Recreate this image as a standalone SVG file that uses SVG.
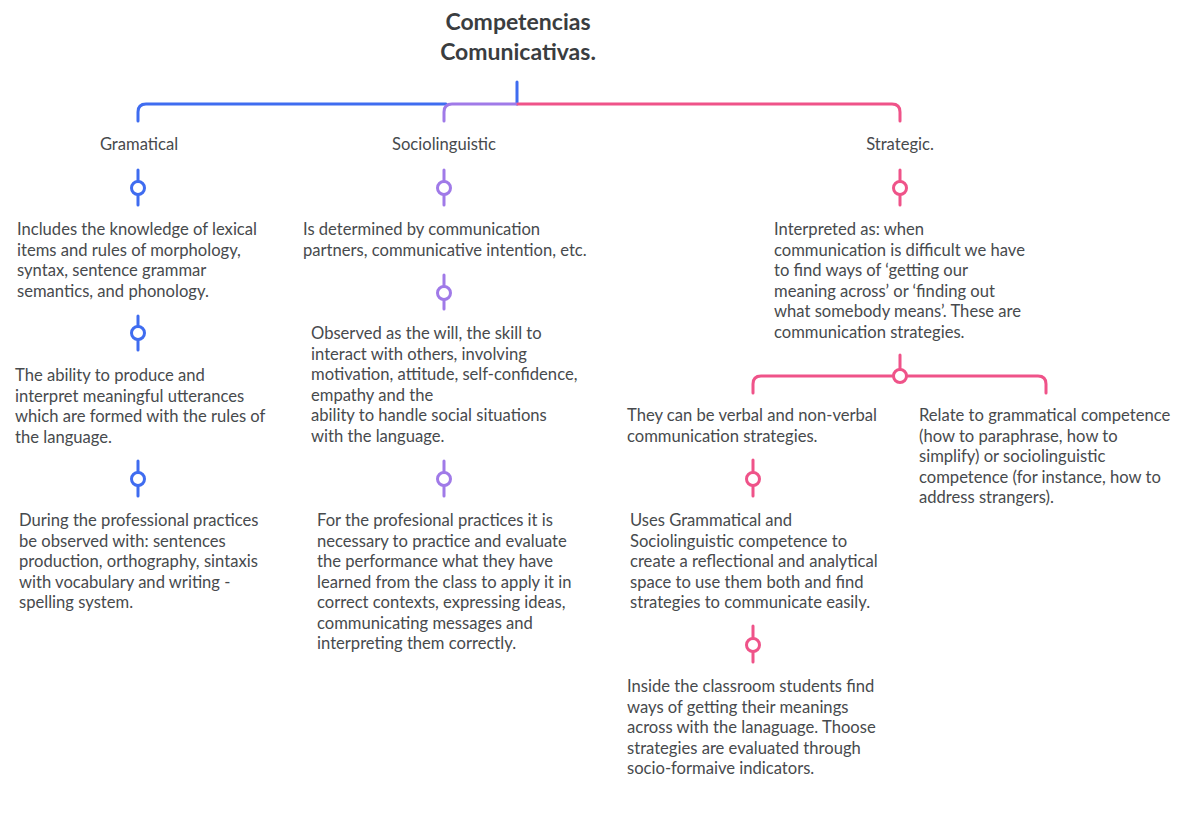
<svg xmlns="http://www.w3.org/2000/svg" width="1182" height="829" viewBox="0 0 1182 829">
<style>
.t{font-family:Lato,"Noto Sans",sans-serif;font-size:16.6px;fill:#474a4d}
.h{font-family:Lato,"Noto Sans",sans-serif;font-size:16.6px;fill:#474a4d;text-anchor:middle}
.title{font-family:Lato,"Noto Sans",sans-serif;font-size:23px;font-weight:bold;fill:#3a3d40;text-anchor:middle}
.ln{fill:none;stroke-width:3;stroke-linecap:round}
.b{stroke:#3f6cf0}
.p{stroke:#a07ae8}
.k{stroke:#ef5389}
.c{fill:#fff;stroke-width:3}
</style>
<rect width="1182" height="829" fill="#fff"/>
<g id="connectors">
<path class="ln b" d="M517 82V104"/>
<path class="ln b" d="M138 121V112Q138 104 146 104H446"/>
<path class="ln p" d="M444 121V112Q444 104 452 104H517"/>
<path class="ln k" d="M518 104H892Q900 104 900 112V121"/>
<path class="ln b" d="M138 170V181M138 195V205"/><circle class="c b" cx="138" cy="188" r="6.5"/>
<path class="ln b" d="M138 316V326M138 340V350"/><circle class="c b" cx="138" cy="333" r="6.5"/>
<path class="ln b" d="M138 461V472M138 486V496"/><circle class="c b" cx="138" cy="479" r="6.5"/>
<path class="ln p" d="M444 170V181M444 195V205"/><circle class="c p" cx="444" cy="188" r="6.5"/>
<path class="ln p" d="M444 275V286M444 300V309"/><circle class="c p" cx="444" cy="293" r="6.5"/>
<path class="ln p" d="M444 461V472M444 486V496"/><circle class="c p" cx="444" cy="479" r="6.5"/>
<path class="ln k" d="M900 170V181M900 195V205"/><circle class="c k" cx="900" cy="188" r="6.5"/>
<path class="ln k" d="M900 355V369"/>
<path class="ln k" d="M753 393V384Q753 376 761 376H893M907 376H1038Q1046 376 1046 384V393"/>
<circle class="c k" cx="900" cy="376" r="6.5"/>
<path class="ln k" d="M753 460V472M753 486V496"/><circle class="c k" cx="753" cy="479" r="6.5"/>
<path class="ln k" d="M753 626V638M753 652V662"/><circle class="c k" cx="753" cy="645" r="6.5"/>
</g>
<g id="root"><text class="title" x="518" y="30">Competencias</text><text class="title" x="518" y="60">Comunicativas.</text></g>
<g id="gramatical"><text class="h" x="139" y="150">Gramatical</text></g>
<g id="sociolinguistic"><text class="h" x="444" y="150">Sociolinguistic</text></g>
<g id="strategic"><text class="h" x="900" y="150">Strategic.</text></g>
<g id="g1"><text class="t" x="17" y="235">Includes the knowledge of lexical<tspan x="17" dy="20.5">items and rules of morphology,</tspan><tspan x="17" dy="20.5">syntax, sentence grammar</tspan><tspan x="17" dy="20.5">semantics, and phonology.</tspan></text></g>
<g id="g2"><text class="t" x="15" y="381">The ability to produce and<tspan x="15" dy="20.5">interpret meaningful utterances</tspan><tspan x="15" dy="20.5">which are formed with the rules of</tspan><tspan x="15" dy="20.5">the language.</tspan></text></g>
<g id="g3"><text class="t" x="19" y="526">During the professional practices<tspan x="19" dy="20.5">be observed with: sentences</tspan><tspan x="19" dy="20.5">production, orthography, sintaxis</tspan><tspan x="19" dy="20.5">with vocabulary and writing -</tspan><tspan x="19" dy="20.5">spelling system.</tspan></text></g>
<g id="s1"><text class="t" x="303" y="235">Is determined by communication<tspan x="303" dy="20.5">partners, communicative intention, etc.</tspan></text></g>
<g id="s2"><text class="t" x="311" y="339">Observed as the will, the skill to<tspan x="311" dy="20.5">interact with others, involving</tspan><tspan x="311" dy="20.5">motivation, attitude, self-confidence,</tspan><tspan x="311" dy="20.5">empathy and the</tspan><tspan x="311" dy="20.5">ability to handle social situations</tspan><tspan x="311" dy="20.5">with the language.</tspan></text></g>
<g id="s3"><text class="t" x="317" y="526">For the profesional practices it is<tspan x="317" dy="20.5">necessary to practice and evaluate</tspan><tspan x="317" dy="20.5">the performance what they have</tspan><tspan x="317" dy="20.5">learned from the class to apply it in</tspan><tspan x="317" dy="20.5">correct contexts, expressing ideas,</tspan><tspan x="317" dy="20.5">communicating messages and</tspan><tspan x="317" dy="20.5">interpreting them correctly.</tspan></text></g>
<g id="st1"><text class="t" x="774" y="235">Interpreted as: when<tspan x="774" dy="20.5">communication is difficult we have</tspan><tspan x="774" dy="20.5">to find ways of ‘getting our</tspan><tspan x="774" dy="20.5">meaning across’ or ‘finding out</tspan><tspan x="774" dy="20.5">what somebody means’. These are</tspan><tspan x="774" dy="20.5">communication strategies.</tspan></text></g>
<g id="st2"><text class="t" x="627" y="421">They can be verbal and non-verbal<tspan x="627" dy="20.5">communication strategies.</tspan></text></g>
<g id="st3"><text class="t" x="630" y="526">Uses Grammatical and<tspan x="630" dy="20.5">Sociolinguistic competence to</tspan><tspan x="630" dy="20.5">create a reflectional and analytical</tspan><tspan x="630" dy="20.5">space to use them both and find</tspan><tspan x="630" dy="20.5">strategies to communicate easily.</tspan></text></g>
<g id="st4"><text class="t" x="627" y="692">Inside the classroom students find<tspan x="627" dy="20.5">ways of getting their meanings</tspan><tspan x="627" dy="20.5">across with the lanaguage. Thoose</tspan><tspan x="627" dy="20.5">strategies are evaluated through</tspan><tspan x="627" dy="20.5">socio-formaive indicators.</tspan></text></g>
<g id="st5"><text class="t" x="919" y="421">Relate to grammatical competence<tspan x="919" dy="20.5">(how to paraphrase, how to</tspan><tspan x="919" dy="20.5">simplify) or sociolinguistic</tspan><tspan x="919" dy="20.5">competence (for instance, how to</tspan><tspan x="919" dy="20.5">address strangers).</tspan></text></g>
</svg>
